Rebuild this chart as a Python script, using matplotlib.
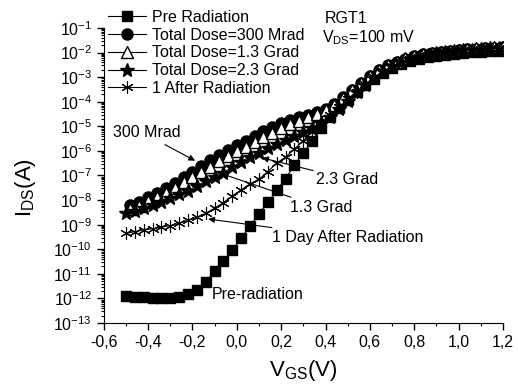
import numpy as np
import matplotlib
matplotlib.use('Agg')
import matplotlib.pyplot as plt
from matplotlib.ticker import LogLocator, MultipleLocator, FuncFormatter, NullFormatter

plt.rcParams['font.family'] = ['Liberation Sans', 'DejaVu Sans']
plt.rcParams['mathtext.fontset'] = 'custom'
plt.rcParams['mathtext.rm'] = 'Liberation Sans'
plt.rcParams['mathtext.it'] = 'Liberation Sans:italic'
plt.rcParams['axes.unicode_minus'] = False

# gate voltage grids (V)
vgs_a = [-0.50, -0.46, -0.42, -0.38, -0.34, -0.30, -0.26, -0.22, -0.18, -0.14,
         -0.10, -0.06, -0.02, 0.02, 0.06, 0.10, 0.14, 0.18, 0.22, 0.26,
         0.30, 0.34, 0.38, 0.42, 0.46, 0.50, 0.54, 0.58, 0.62, 0.66,
         0.70, 0.74, 0.78, 0.82, 0.86, 0.90, 0.94, 0.98, 1.02, 1.06,
         1.10, 1.14, 1.18]
vgs_b = [-0.48, -0.44, -0.40, -0.36, -0.32, -0.28, -0.24, -0.20, -0.16, -0.12,
         -0.08, -0.04, 0.00, 0.04, 0.08, 0.12, 0.16, 0.20, 0.24, 0.28,
         0.32, 0.36, 0.40, 0.44, 0.48, 0.52, 0.56, 0.60, 0.64, 0.68,
         0.72, 0.76, 0.80, 0.84, 0.88, 0.92, 0.96, 1.00, 1.04, 1.08,
         1.12, 1.16, 1.20]

# drain current (A)
pre_rad = [1.2e-12, 1.15e-12, 1.1e-12, 1.08e-12, 1.05e-12, 1.05e-12, 1.15e-12, 1.45e-12, 2.2e-12, 4.7e-12,
           1.25e-11, 3.4e-11, 9.5e-11, 2.8e-10, 8.9e-10, 2.8e-9, 8e-9, 2.5e-8, 7.5e-8, 2.7e-7,
           8.5e-7, 2.6e-6, 8.5e-6, 2.3e-5, 5.5e-5, 1.2e-4, 2.5e-4, 4.8e-4, 8.8e-4, 1.5e-3,
           2.4e-3, 3.4e-3, 4.5e-3, 5.6e-3, 6.6e-3, 7.5e-3, 8.3e-3, 9.0e-3, 9.7e-3, 1.03e-2,
           1.08e-2, 1.13e-2, 1.17e-2]
dose_300m = [6.4e-9, 8.7e-9, 1.3e-8, 1.9e-8, 3.0e-8, 5.1e-8, 8.5e-8, 1.4e-7, 2.5e-7, 4.1e-7,
             6.9e-7, 1.1e-6, 1.8e-6, 2.6e-6, 3.9e-6, 6.2e-6, 9.8e-6, 1.35e-5, 1.85e-5, 2.4e-5,
             3.0e-5, 3.8e-5, 5.2e-5, 8e-5, 1.5e-4, 3e-4, 6e-4, 1.1e-3, 1.9e-3, 3.0e-3,
             4.3e-3, 5.7e-3, 7.1e-3, 8.4e-3, 9.6e-3, 1.07e-2, 1.17e-2, 1.26e-2, 1.35e-2, 1.43e-2,
             1.5e-2, 1.57e-2, 1.63e-2]
dose_1g3 = [4.3e-9, 6e-9, 8.8e-9, 1.3e-8, 2.0e-8, 3.2e-8, 5.2e-8, 8.5e-8, 1.4e-7, 2.3e-7,
            3.8e-7, 6.2e-7, 1.0e-6, 1.5e-6, 2.3e-6, 3.6e-6, 5.6e-6, 8.3e-6, 1.2e-5, 1.7e-5,
            2.3e-5, 3.2e-5, 4.7e-5, 7.5e-5, 1.4e-4, 2.9e-4, 5.8e-4, 1.08e-3, 1.9e-3, 3.0e-3,
            4.3e-3, 5.8e-3, 7.2e-3, 8.6e-3, 9.9e-3, 1.1e-2, 1.2e-2, 1.3e-2, 1.39e-2, 1.47e-2,
            1.55e-2, 1.62e-2, 1.69e-2]
dose_2g3 = [2.9e-9, 3.7e-9, 4.7e-9, 6.4e-9, 8.7e-9, 1.2e-8, 1.7e-8, 2.4e-8, 3.8e-8, 5.7e-8,
            9.1e-8, 1.3e-7, 2.2e-7, 3.6e-7, 5.8e-7, 8.6e-7, 1.3e-6, 1.9e-6, 2.8e-6, 4.1e-6,
            6e-6, 8.8e-6, 1.4e-5, 2.5e-5, 5e-5, 1.1e-4, 2.4e-4, 5e-4, 9.5e-4, 1.7e-3,
            2.8e-3, 4.1e-3, 5.5e-3, 6.9e-3, 8.2e-3, 9.4e-3, 1.05e-2, 1.15e-2, 1.24e-2, 1.33e-2,
            1.41e-2, 1.48e-2, 1.55e-2]
after_rad = [4.4e-10, 5.2e-10, 6.2e-10, 6.8e-10, 7.9e-10, 9.2e-10, 1.15e-9, 1.5e-9, 2.0e-9, 2.9e-9,
             4.7e-9, 7.9e-9, 1.5e-8, 2.6e-8, 4.6e-8, 7.1e-8, 1.45e-7, 3.2e-7, 5.6e-7, 1.2e-6,
             2.6e-6, 6.1e-6, 1.35e-5, 2.8e-5, 6e-5, 1.25e-4, 2.6e-4, 5.2e-4, 9.8e-4, 1.7e-3,
             2.8e-3, 4.1e-3, 5.5e-3, 6.9e-3, 8.2e-3, 9.4e-3, 1.05e-2, 1.15e-2, 1.24e-2, 1.32e-2,
             1.4e-2, 1.47e-2, 1.53e-2]

fig = plt.figure(figsize=(5.18, 3.86), dpi=100)
ax = fig.add_axes([0.2002, 0.1632, 0.7708, 0.7643])

ax.plot(vgs_a, pre_rad, '-s', color='black', lw=0.8, ms=6.5, mfc='black', label='Pre Radiation')
ax.plot(vgs_b, dose_300m, '-o', color='black', lw=0.8, ms=8, mfc='black', label='Total Dose=300 Mrad')
ax.plot(vgs_b, dose_1g3, '-^', color='black', lw=0.8, ms=8.5, mfc='white', label='Total Dose=1.3 Grad')
ax.plot(vgs_a, dose_2g3, '-*', color='black', lw=0.8, ms=10, mfc='black', label='Total Dose=2.3 Grad')
ax.plot(vgs_a, after_rad, '-', marker=(6, 2, 0), color='black', lw=0.8, ms=9, mew=0.8,
        label='1 After Radiation')

ax.set_yscale('log')
ax.set_xlim(-0.6, 1.2)
ax.set_ylim(1e-13, 1e-1)
ax.yaxis.set_major_locator(LogLocator(base=10, numticks=30))
ax.yaxis.set_minor_locator(LogLocator(base=10, subs=np.arange(2, 10), numticks=200))
ax.yaxis.set_minor_formatter(NullFormatter())
ax.xaxis.set_major_locator(MultipleLocator(0.2))
ax.xaxis.set_minor_locator(MultipleLocator(0.1))
ax.xaxis.set_major_formatter(FuncFormatter(lambda v, p: ('%.1f' % v).replace('.', ',').replace('-0,0', '0,0')))

for s in ['top', 'right']:
    ax.spines[s].set_visible(False)
ax.tick_params(which='major', direction='out', length=5, width=1, labelsize=11.5)
ax.tick_params(which='minor', direction='out', length=2.5, width=0.8)

ax.set_xlabel('$\\mathregular{V_{GS}}$(V)', fontsize=16, labelpad=6)
ax.set_ylabel('$\\mathregular{I_{DS}}$(A)', fontsize=16)
ax.yaxis.set_label_coords(-0.165, 0.46)

leg = fig.legend(loc='upper left', bbox_to_anchor=(108 / 518, 1 - 10 / 386), frameon=False,
                 fontsize=11.5, handlelength=2.4, handletextpad=0.35, labelspacing=0.17,
                 borderpad=0, borderaxespad=0)

ax.text(0.398, 10 ** -0.60, 'RGT1', fontsize=11.5, va='center', clip_on=False)
ax.text(0.384, 10 ** -1.40, '$\\mathregular{V_{DS}}$=100 mV', fontsize=11.5, va='center', clip_on=False)

arr = dict(arrowstyle='-|>', color='black', lw=0.8, mutation_scale=9, shrinkA=0, shrinkB=0)
ax.text(-0.558, 5.5e-6, '300 Mrad', fontsize=11.5, va='center')
ax.annotate('', xy=(-0.188, 4e-7), xytext=(-0.324, 1.8e-6), arrowprops=arr)
ax.annotate('2.3 Grad', xy=(0.114, 5.2e-7), xytext=(0.357, 7.2e-8), fontsize=11.5, va='center',
            arrowprops=arr)
ax.annotate('1.3 Grad', xy=(-0.067, 1.17e-7), xytext=(0.24, 5e-9), fontsize=11.5, va='center',
            arrowprops=arr)
ax.annotate('1 Day After Radiation', xy=(-0.129, 10 ** -8.77), xytext=(0.16, 2.9e-10), fontsize=11.5,
            va='center', arrowprops=arr)
ax.text(-0.113, 1.5e-12, 'Pre-radiation', fontsize=11.5, va='center')

fig.savefig('out.png', dpi=100)
